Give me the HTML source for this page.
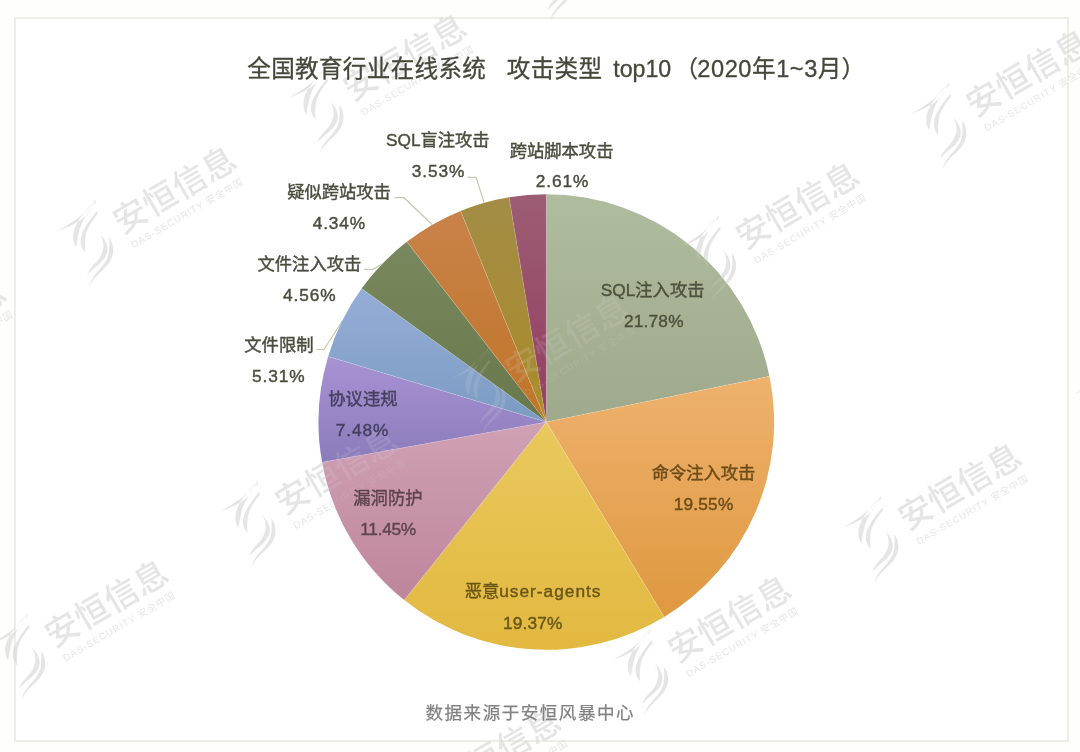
<!DOCTYPE html>
<html lang="zh-CN">
<head>
<meta charset="utf-8">
<title>全国教育行业在线系统 攻击类型 top10（2020年1~3月）</title>
<style>
html,body{margin:0;padding:0;background:#fefefc;}
body{width:1080px;height:752px;overflow:hidden;position:relative;font-family:"Liberation Sans", "Noto Sans CJK SC", sans-serif;}
#chart{position:absolute;left:0;top:0;width:1080px;height:752px;display:block;}
text{font-family:"Liberation Sans", "Noto Sans CJK SC", sans-serif;}
.lbl{font-size:17.3px;fill:#4b4d3f;text-anchor:middle;stroke:#4b4d3f;stroke-width:0.42px;}
.ttl{font-size:23.6px;fill:#45473a;letter-spacing:0.3px;stroke:#45473a;stroke-width:0.3px;}
.src{font-size:17.5px;fill:#828282;letter-spacing:1.55px;stroke:#828282;stroke-width:0.25px;}
.wmT{font-size:33.5px;font-weight:500;letter-spacing:0.6px;}
.wmS{font-size:9.6px;letter-spacing:0.95px;}
</style>
</head>
<body>
<svg id="chart" width="1080" height="752" viewBox="0 0 1080 752">
<defs>
<linearGradient id="g0" x1="0" y1="0" x2="0" y2="1"><stop offset="0" stop-color="#b0bc9e"/><stop offset="1" stop-color="#9fa98b"/></linearGradient>
<linearGradient id="g1" x1="0" y1="0" x2="0" y2="1"><stop offset="0" stop-color="#eeb26e"/><stop offset="1" stop-color="#df983f"/></linearGradient>
<linearGradient id="g2" x1="0" y1="0" x2="0" y2="1"><stop offset="0" stop-color="#e9c95d"/><stop offset="1" stop-color="#e2b840"/></linearGradient>
<linearGradient id="g3" x1="0" y1="0" x2="0" y2="1"><stop offset="0" stop-color="#d0a1b5"/><stop offset="1" stop-color="#be859d"/></linearGradient>
<linearGradient id="g4" x1="0" y1="0" x2="0" y2="1"><stop offset="0" stop-color="#a893d3"/><stop offset="1" stop-color="#8b7bbb"/></linearGradient>
<linearGradient id="g5" x1="0" y1="0" x2="0" y2="1"><stop offset="0" stop-color="#95aed7"/><stop offset="1" stop-color="#7b9bc3"/></linearGradient>
<linearGradient id="g6" x1="0" y1="0" x2="0" y2="1"><stop offset="0" stop-color="#79885e"/><stop offset="1" stop-color="#68784c"/></linearGradient>
<linearGradient id="g7" x1="0" y1="0" x2="0" y2="1"><stop offset="0" stop-color="#c9824a"/><stop offset="1" stop-color="#c07526"/></linearGradient>
<linearGradient id="g8" x1="0" y1="0" x2="0" y2="1"><stop offset="0" stop-color="#a38c46"/><stop offset="1" stop-color="#aa8c2a"/></linearGradient>
<linearGradient id="g9" x1="0" y1="0" x2="0" y2="1"><stop offset="0" stop-color="#9c5d74"/><stop offset="1" stop-color="#943e60"/></linearGradient>
<mask id="wmMask" maskUnits="userSpaceOnUse" x="0" y="0" width="1080" height="752"><path fill="#fff" fill-rule="evenodd" d="M0,0H1080V752H0Z M318.49999999999994,422.0 a227.8,227.8 0 1 0 455.6,0 a227.8,227.8 0 1 0 -455.6,0Z"/><circle cx="546.3" cy="422.0" r="227.8" fill="#fff" fill-opacity="0.24"/></mask>
</defs>
<rect x="15" y="18" width="1053" height="723" fill="#ffffff" stroke="#ebebe5" stroke-width="1.7"/>
<path d="M546.30,422.00 L546.30,194.20 A227.8,227.8 0 0 1 769.47,376.29 Z" fill="url(#g0)"/>
<path d="M546.30,422.00 L769.47,376.29 A227.8,227.8 0 0 1 664.25,616.89 Z" fill="url(#g1)"/>
<path d="M546.30,422.00 L664.25,616.89 A227.8,227.8 0 0 1 404.29,600.12 Z" fill="url(#g2)"/>
<path d="M546.30,422.00 L404.29,600.12 A227.8,227.8 0 0 1 322.11,462.37 Z" fill="url(#g3)"/>
<path d="M546.30,422.00 L322.11,462.37 A227.8,227.8 0 0 1 328.14,356.44 Z" fill="url(#g4)"/>
<path d="M546.30,422.00 L328.14,356.44 A227.8,227.8 0 0 1 361.64,288.60 Z" fill="url(#g5)"/>
<path d="M546.30,422.00 L361.64,288.60 A227.8,227.8 0 0 1 406.88,241.85 Z" fill="url(#g6)"/>
<path d="M546.30,422.00 L406.88,241.85 A227.8,227.8 0 0 1 460.57,210.95 Z" fill="url(#g7)"/>
<path d="M546.30,422.00 L460.57,210.95 A227.8,227.8 0 0 1 509.10,197.26 Z" fill="url(#g8)"/>
<path d="M546.30,422.00 L509.10,197.26 A227.8,227.8 0 0 1 546.30,194.20 Z" fill="url(#g9)"/>
<line x1="546.30" y1="422.00" x2="546.30" y2="194.20" stroke="#ffffff" stroke-opacity="0.2" stroke-width="0.9"/>
<line x1="546.30" y1="422.00" x2="769.47" y2="376.29" stroke="#ffffff" stroke-opacity="0.2" stroke-width="0.9"/>
<line x1="546.30" y1="422.00" x2="664.25" y2="616.89" stroke="#ffffff" stroke-opacity="0.2" stroke-width="0.9"/>
<line x1="546.30" y1="422.00" x2="404.29" y2="600.12" stroke="#ffffff" stroke-opacity="0.2" stroke-width="0.9"/>
<line x1="546.30" y1="422.00" x2="322.11" y2="462.37" stroke="#ffffff" stroke-opacity="0.2" stroke-width="0.9"/>
<line x1="546.30" y1="422.00" x2="328.14" y2="356.44" stroke="#ffffff" stroke-opacity="0.2" stroke-width="0.9"/>
<line x1="546.30" y1="422.00" x2="361.64" y2="288.60" stroke="#ffffff" stroke-opacity="0.2" stroke-width="0.9"/>
<line x1="546.30" y1="422.00" x2="406.88" y2="241.85" stroke="#ffffff" stroke-opacity="0.2" stroke-width="0.9"/>
<line x1="546.30" y1="422.00" x2="460.57" y2="210.95" stroke="#ffffff" stroke-opacity="0.2" stroke-width="0.9"/>
<line x1="546.30" y1="422.00" x2="509.10" y2="197.26" stroke="#ffffff" stroke-opacity="0.2" stroke-width="0.9"/>
<g mask="url(#wmMask)" fill="#d8d8d8" fill-opacity="0.68">
<g transform="translate(718.6,215.4)"><path d="M0,0 C-6,6 -14,15.4 -19,24 C-23,32 -24.5,40 -19.5,47.5 C-19,43 -17.8,36 -16,29.3 C-13,20 -7,11 0,2.8 ZM1.4,11.2 C-3,16 -8.4,23.7 -12,30 C-16,38 -16.5,46 -10.5,52.4 C-11,47 -11,40 -9.8,34.9 C-8,27 -3,20 2.1,14 ZM-37.7,30.7 C-30,27 -21,21 -15,16 C-9,11 -4,5 -0.7,0.7 C-2,5 -5,10 -9,15 C-15,21 -25,27 -37.7,30.7 ZM4.2,34.9 C8,38 11,42 11.9,48.9 C12.5,56 6,63 -1.4,68.4 C-4,70.5 -6.5,73 -8.4,75.4 C-7,70 -3,66 0,62.8 C4,58.5 7,54 7.7,47 C8,42 6.5,38 4.2,34.9 ZM13.3,37.7 C16,41 17.8,46 17.5,51.7 C17,59 12,66 5,72 C0.5,76 -4,81 -6.3,86.6 C-5,81 -3,77.5 0,74 C5,68 11.5,62 13,54 C14,47.5 13.8,42 13.3,37.7 Z"/><g transform="translate(29.5,32.5) rotate(-30.3)"><text class="wmT" x="-4" y="0.5">安恒信息</text><text class="wmS" x="-0.9" y="18.1">DAS-SECURITY 安全中国</text></g></g>
<g transform="translate(948.9,82.8)"><path d="M0,0 C-6,6 -14,15.4 -19,24 C-23,32 -24.5,40 -19.5,47.5 C-19,43 -17.8,36 -16,29.3 C-13,20 -7,11 0,2.8 ZM1.4,11.2 C-3,16 -8.4,23.7 -12,30 C-16,38 -16.5,46 -10.5,52.4 C-11,47 -11,40 -9.8,34.9 C-8,27 -3,20 2.1,14 ZM-37.7,30.7 C-30,27 -21,21 -15,16 C-9,11 -4,5 -0.7,0.7 C-2,5 -5,10 -9,15 C-15,21 -25,27 -37.7,30.7 ZM4.2,34.9 C8,38 11,42 11.9,48.9 C12.5,56 6,63 -1.4,68.4 C-4,70.5 -6.5,73 -8.4,75.4 C-7,70 -3,66 0,62.8 C4,58.5 7,54 7.7,47 C8,42 6.5,38 4.2,34.9 ZM13.3,37.7 C16,41 17.8,46 17.5,51.7 C17,59 12,66 5,72 C0.5,76 -4,81 -6.3,86.6 C-5,81 -3,77.5 0,74 C5,68 11.5,62 13,54 C14,47.5 13.8,42 13.3,37.7 Z"/><g transform="translate(29.5,32.5) rotate(-30.3)"><text class="wmT" x="-4" y="0.5">安恒信息</text><text class="wmS" x="-0.9" y="18.1">DAS-SECURITY 安全中国</text></g></g>
<g transform="translate(488.3,348.0)"><path d="M0,0 C-6,6 -14,15.4 -19,24 C-23,32 -24.5,40 -19.5,47.5 C-19,43 -17.8,36 -16,29.3 C-13,20 -7,11 0,2.8 ZM1.4,11.2 C-3,16 -8.4,23.7 -12,30 C-16,38 -16.5,46 -10.5,52.4 C-11,47 -11,40 -9.8,34.9 C-8,27 -3,20 2.1,14 ZM-37.7,30.7 C-30,27 -21,21 -15,16 C-9,11 -4,5 -0.7,0.7 C-2,5 -5,10 -9,15 C-15,21 -25,27 -37.7,30.7 ZM4.2,34.9 C8,38 11,42 11.9,48.9 C12.5,56 6,63 -1.4,68.4 C-4,70.5 -6.5,73 -8.4,75.4 C-7,70 -3,66 0,62.8 C4,58.5 7,54 7.7,47 C8,42 6.5,38 4.2,34.9 ZM13.3,37.7 C16,41 17.8,46 17.5,51.7 C17,59 12,66 5,72 C0.5,76 -4,81 -6.3,86.6 C-5,81 -3,77.5 0,74 C5,68 11.5,62 13,54 C14,47.5 13.8,42 13.3,37.7 Z"/><g transform="translate(29.5,32.5) rotate(-30.3)"><text class="wmT" x="-4" y="0.5">安恒信息</text><text class="wmS" x="-0.9" y="18.1">DAS-SECURITY 安全中国</text></g></g>
<g transform="translate(258.0,480.6)"><path d="M0,0 C-6,6 -14,15.4 -19,24 C-23,32 -24.5,40 -19.5,47.5 C-19,43 -17.8,36 -16,29.3 C-13,20 -7,11 0,2.8 ZM1.4,11.2 C-3,16 -8.4,23.7 -12,30 C-16,38 -16.5,46 -10.5,52.4 C-11,47 -11,40 -9.8,34.9 C-8,27 -3,20 2.1,14 ZM-37.7,30.7 C-30,27 -21,21 -15,16 C-9,11 -4,5 -0.7,0.7 C-2,5 -5,10 -9,15 C-15,21 -25,27 -37.7,30.7 ZM4.2,34.9 C8,38 11,42 11.9,48.9 C12.5,56 6,63 -1.4,68.4 C-4,70.5 -6.5,73 -8.4,75.4 C-7,70 -3,66 0,62.8 C4,58.5 7,54 7.7,47 C8,42 6.5,38 4.2,34.9 ZM13.3,37.7 C16,41 17.8,46 17.5,51.7 C17,59 12,66 5,72 C0.5,76 -4,81 -6.3,86.6 C-5,81 -3,77.5 0,74 C5,68 11.5,62 13,54 C14,47.5 13.8,42 13.3,37.7 Z"/><g transform="translate(29.5,32.5) rotate(-30.3)"><text class="wmT" x="-4" y="0.5">安恒信息</text><text class="wmS" x="-0.9" y="18.1">DAS-SECURITY 安全中国</text></g></g>
<g transform="translate(27.7,613.2)"><path d="M0,0 C-6,6 -14,15.4 -19,24 C-23,32 -24.5,40 -19.5,47.5 C-19,43 -17.8,36 -16,29.3 C-13,20 -7,11 0,2.8 ZM1.4,11.2 C-3,16 -8.4,23.7 -12,30 C-16,38 -16.5,46 -10.5,52.4 C-11,47 -11,40 -9.8,34.9 C-8,27 -3,20 2.1,14 ZM-37.7,30.7 C-30,27 -21,21 -15,16 C-9,11 -4,5 -0.7,0.7 C-2,5 -5,10 -9,15 C-15,21 -25,27 -37.7,30.7 ZM4.2,34.9 C8,38 11,42 11.9,48.9 C12.5,56 6,63 -1.4,68.4 C-4,70.5 -6.5,73 -8.4,75.4 C-7,70 -3,66 0,62.8 C4,58.5 7,54 7.7,47 C8,42 6.5,38 4.2,34.9 ZM13.3,37.7 C16,41 17.8,46 17.5,51.7 C17,59 12,66 5,72 C0.5,76 -4,81 -6.3,86.6 C-5,81 -3,77.5 0,74 C5,68 11.5,62 13,54 C14,47.5 13.8,42 13.3,37.7 Z"/><g transform="translate(29.5,32.5) rotate(-30.3)"><text class="wmT" x="-4" y="0.5">安恒信息</text><text class="wmS" x="-0.9" y="18.1">DAS-SECURITY 安全中国</text></g></g>
<g transform="translate(880.9,496.3)"><path d="M0,0 C-6,6 -14,15.4 -19,24 C-23,32 -24.5,40 -19.5,47.5 C-19,43 -17.8,36 -16,29.3 C-13,20 -7,11 0,2.8 ZM1.4,11.2 C-3,16 -8.4,23.7 -12,30 C-16,38 -16.5,46 -10.5,52.4 C-11,47 -11,40 -9.8,34.9 C-8,27 -3,20 2.1,14 ZM-37.7,30.7 C-30,27 -21,21 -15,16 C-9,11 -4,5 -0.7,0.7 C-2,5 -5,10 -9,15 C-15,21 -25,27 -37.7,30.7 ZM4.2,34.9 C8,38 11,42 11.9,48.9 C12.5,56 6,63 -1.4,68.4 C-4,70.5 -6.5,73 -8.4,75.4 C-7,70 -3,66 0,62.8 C4,58.5 7,54 7.7,47 C8,42 6.5,38 4.2,34.9 ZM13.3,37.7 C16,41 17.8,46 17.5,51.7 C17,59 12,66 5,72 C0.5,76 -4,81 -6.3,86.6 C-5,81 -3,77.5 0,74 C5,68 11.5,62 13,54 C14,47.5 13.8,42 13.3,37.7 Z"/><g transform="translate(29.5,32.5) rotate(-30.3)"><text class="wmT" x="-4" y="0.5">安恒信息</text><text class="wmS" x="-0.9" y="18.1">DAS-SECURITY 安全中国</text></g></g>
<g transform="translate(650.6,628.9)"><path d="M0,0 C-6,6 -14,15.4 -19,24 C-23,32 -24.5,40 -19.5,47.5 C-19,43 -17.8,36 -16,29.3 C-13,20 -7,11 0,2.8 ZM1.4,11.2 C-3,16 -8.4,23.7 -12,30 C-16,38 -16.5,46 -10.5,52.4 C-11,47 -11,40 -9.8,34.9 C-8,27 -3,20 2.1,14 ZM-37.7,30.7 C-30,27 -21,21 -15,16 C-9,11 -4,5 -0.7,0.7 C-2,5 -5,10 -9,15 C-15,21 -25,27 -37.7,30.7 ZM4.2,34.9 C8,38 11,42 11.9,48.9 C12.5,56 6,63 -1.4,68.4 C-4,70.5 -6.5,73 -8.4,75.4 C-7,70 -3,66 0,62.8 C4,58.5 7,54 7.7,47 C8,42 6.5,38 4.2,34.9 ZM13.3,37.7 C16,41 17.8,46 17.5,51.7 C17,59 12,66 5,72 C0.5,76 -4,81 -6.3,86.6 C-5,81 -3,77.5 0,74 C5,68 11.5,62 13,54 C14,47.5 13.8,42 13.3,37.7 Z"/><g transform="translate(29.5,32.5) rotate(-30.3)"><text class="wmT" x="-4" y="0.5">安恒信息</text><text class="wmS" x="-0.9" y="18.1">DAS-SECURITY 安全中国</text></g></g>
<g transform="translate(420.3,761.5)"><path d="M0,0 C-6,6 -14,15.4 -19,24 C-23,32 -24.5,40 -19.5,47.5 C-19,43 -17.8,36 -16,29.3 C-13,20 -7,11 0,2.8 ZM1.4,11.2 C-3,16 -8.4,23.7 -12,30 C-16,38 -16.5,46 -10.5,52.4 C-11,47 -11,40 -9.8,34.9 C-8,27 -3,20 2.1,14 ZM-37.7,30.7 C-30,27 -21,21 -15,16 C-9,11 -4,5 -0.7,0.7 C-2,5 -5,10 -9,15 C-15,21 -25,27 -37.7,30.7 ZM4.2,34.9 C8,38 11,42 11.9,48.9 C12.5,56 6,63 -1.4,68.4 C-4,70.5 -6.5,73 -8.4,75.4 C-7,70 -3,66 0,62.8 C4,58.5 7,54 7.7,47 C8,42 6.5,38 4.2,34.9 ZM13.3,37.7 C16,41 17.8,46 17.5,51.7 C17,59 12,66 5,72 C0.5,76 -4,81 -6.3,86.6 C-5,81 -3,77.5 0,74 C5,68 11.5,62 13,54 C14,47.5 13.8,42 13.3,37.7 Z"/><g transform="translate(29.5,32.5) rotate(-30.3)"><text class="wmT" x="-4" y="0.5">安恒信息</text><text class="wmS" x="-0.9" y="18.1">DAS-SECURITY 安全中国</text></g></g>
<g transform="translate(1111.2,363.7)"><path d="M0,0 C-6,6 -14,15.4 -19,24 C-23,32 -24.5,40 -19.5,47.5 C-19,43 -17.8,36 -16,29.3 C-13,20 -7,11 0,2.8 ZM1.4,11.2 C-3,16 -8.4,23.7 -12,30 C-16,38 -16.5,46 -10.5,52.4 C-11,47 -11,40 -9.8,34.9 C-8,27 -3,20 2.1,14 ZM-37.7,30.7 C-30,27 -21,21 -15,16 C-9,11 -4,5 -0.7,0.7 C-2,5 -5,10 -9,15 C-15,21 -25,27 -37.7,30.7 ZM4.2,34.9 C8,38 11,42 11.9,48.9 C12.5,56 6,63 -1.4,68.4 C-4,70.5 -6.5,73 -8.4,75.4 C-7,70 -3,66 0,62.8 C4,58.5 7,54 7.7,47 C8,42 6.5,38 4.2,34.9 ZM13.3,37.7 C16,41 17.8,46 17.5,51.7 C17,59 12,66 5,72 C0.5,76 -4,81 -6.3,86.6 C-5,81 -3,77.5 0,74 C5,68 11.5,62 13,54 C14,47.5 13.8,42 13.3,37.7 Z"/><g transform="translate(29.5,32.5) rotate(-30.3)"><text class="wmT" x="-4" y="0.5">安恒信息</text><text class="wmS" x="-0.9" y="18.1">DAS-SECURITY 安全中国</text></g></g>
<g transform="translate(556.3,-65.5)"><path d="M0,0 C-6,6 -14,15.4 -19,24 C-23,32 -24.5,40 -19.5,47.5 C-19,43 -17.8,36 -16,29.3 C-13,20 -7,11 0,2.8 ZM1.4,11.2 C-3,16 -8.4,23.7 -12,30 C-16,38 -16.5,46 -10.5,52.4 C-11,47 -11,40 -9.8,34.9 C-8,27 -3,20 2.1,14 ZM-37.7,30.7 C-30,27 -21,21 -15,16 C-9,11 -4,5 -0.7,0.7 C-2,5 -5,10 -9,15 C-15,21 -25,27 -37.7,30.7 ZM4.2,34.9 C8,38 11,42 11.9,48.9 C12.5,56 6,63 -1.4,68.4 C-4,70.5 -6.5,73 -8.4,75.4 C-7,70 -3,66 0,62.8 C4,58.5 7,54 7.7,47 C8,42 6.5,38 4.2,34.9 ZM13.3,37.7 C16,41 17.8,46 17.5,51.7 C17,59 12,66 5,72 C0.5,76 -4,81 -6.3,86.6 C-5,81 -3,77.5 0,74 C5,68 11.5,62 13,54 C14,47.5 13.8,42 13.3,37.7 Z"/><g transform="translate(29.5,32.5) rotate(-30.3)"><text class="wmT" x="-4" y="0.5">安恒信息</text><text class="wmS" x="-0.9" y="18.1">DAS-SECURITY 安全中国</text></g></g>
<g transform="translate(326.0,67.1)"><path d="M0,0 C-6,6 -14,15.4 -19,24 C-23,32 -24.5,40 -19.5,47.5 C-19,43 -17.8,36 -16,29.3 C-13,20 -7,11 0,2.8 ZM1.4,11.2 C-3,16 -8.4,23.7 -12,30 C-16,38 -16.5,46 -10.5,52.4 C-11,47 -11,40 -9.8,34.9 C-8,27 -3,20 2.1,14 ZM-37.7,30.7 C-30,27 -21,21 -15,16 C-9,11 -4,5 -0.7,0.7 C-2,5 -5,10 -9,15 C-15,21 -25,27 -37.7,30.7 ZM4.2,34.9 C8,38 11,42 11.9,48.9 C12.5,56 6,63 -1.4,68.4 C-4,70.5 -6.5,73 -8.4,75.4 C-7,70 -3,66 0,62.8 C4,58.5 7,54 7.7,47 C8,42 6.5,38 4.2,34.9 ZM13.3,37.7 C16,41 17.8,46 17.5,51.7 C17,59 12,66 5,72 C0.5,76 -4,81 -6.3,86.6 C-5,81 -3,77.5 0,74 C5,68 11.5,62 13,54 C14,47.5 13.8,42 13.3,37.7 Z"/><g transform="translate(29.5,32.5) rotate(-30.3)"><text class="wmT" x="-4" y="0.5">安恒信息</text><text class="wmS" x="-0.9" y="18.1">DAS-SECURITY 安全中国</text></g></g>
<g transform="translate(95.7,199.7)"><path d="M0,0 C-6,6 -14,15.4 -19,24 C-23,32 -24.5,40 -19.5,47.5 C-19,43 -17.8,36 -16,29.3 C-13,20 -7,11 0,2.8 ZM1.4,11.2 C-3,16 -8.4,23.7 -12,30 C-16,38 -16.5,46 -10.5,52.4 C-11,47 -11,40 -9.8,34.9 C-8,27 -3,20 2.1,14 ZM-37.7,30.7 C-30,27 -21,21 -15,16 C-9,11 -4,5 -0.7,0.7 C-2,5 -5,10 -9,15 C-15,21 -25,27 -37.7,30.7 ZM4.2,34.9 C8,38 11,42 11.9,48.9 C12.5,56 6,63 -1.4,68.4 C-4,70.5 -6.5,73 -8.4,75.4 C-7,70 -3,66 0,62.8 C4,58.5 7,54 7.7,47 C8,42 6.5,38 4.2,34.9 ZM13.3,37.7 C16,41 17.8,46 17.5,51.7 C17,59 12,66 5,72 C0.5,76 -4,81 -6.3,86.6 C-5,81 -3,77.5 0,74 C5,68 11.5,62 13,54 C14,47.5 13.8,42 13.3,37.7 Z"/><g transform="translate(29.5,32.5) rotate(-30.3)"><text class="wmT" x="-4" y="0.5">安恒信息</text><text class="wmS" x="-0.9" y="18.1">DAS-SECURITY 安全中国</text></g></g>
<g transform="translate(-134.6,332.3)"><path d="M0,0 C-6,6 -14,15.4 -19,24 C-23,32 -24.5,40 -19.5,47.5 C-19,43 -17.8,36 -16,29.3 C-13,20 -7,11 0,2.8 ZM1.4,11.2 C-3,16 -8.4,23.7 -12,30 C-16,38 -16.5,46 -10.5,52.4 C-11,47 -11,40 -9.8,34.9 C-8,27 -3,20 2.1,14 ZM-37.7,30.7 C-30,27 -21,21 -15,16 C-9,11 -4,5 -0.7,0.7 C-2,5 -5,10 -9,15 C-15,21 -25,27 -37.7,30.7 ZM4.2,34.9 C8,38 11,42 11.9,48.9 C12.5,56 6,63 -1.4,68.4 C-4,70.5 -6.5,73 -8.4,75.4 C-7,70 -3,66 0,62.8 C4,58.5 7,54 7.7,47 C8,42 6.5,38 4.2,34.9 ZM13.3,37.7 C16,41 17.8,46 17.5,51.7 C17,59 12,66 5,72 C0.5,76 -4,81 -6.3,86.6 C-5,81 -3,77.5 0,74 C5,68 11.5,62 13,54 C14,47.5 13.8,42 13.3,37.7 Z"/><g transform="translate(29.5,32.5) rotate(-30.3)"><text class="wmT" x="-4" y="0.5">安恒信息</text><text class="wmS" x="-0.9" y="18.1">DAS-SECURITY 安全中国</text></g></g>
</g>
<polyline points="467.6,177.4 476.1,177.4 484.1,202.5" fill="none" stroke="#c3c9b0" stroke-width="1.2"/>
<polyline points="394.4,197.7 404.0,197.7 432.4,224.7" fill="none" stroke="#c3c9b0" stroke-width="1.2"/>
<polyline points="364.3,269.3 373.0,269.3 382.4,263.7" fill="none" stroke="#c3c9b0" stroke-width="1.2"/>
<polyline points="316.4,349.5 324.0,349.5 342.0,321.2" fill="none" stroke="#c3c9b0" stroke-width="1.2"/>
<text class="ttl" x="247.3" y="76.6">全国教育行业在线系统</text>
<text class="ttl" x="506.8" y="76.6">攻击类型</text>
<text class="ttl" x="613.2" y="76.6" style="font-size:23.2px;letter-spacing:0">top10</text>
<text class="ttl" x="674.5" y="76.6">（</text>
<text class="ttl" x="697.3" y="76.6" style="letter-spacing:0.55px">2020年1~3月</text>
<text class="ttl" x="841.5" y="76.6">）</text>
<text class="lbl" x="561.6" y="156.6">跨站脚本攻击</text>
<text class="lbl" x="562.5" y="186.7" style="letter-spacing:0.9px">2.61%</text>
<text class="lbl" x="437.8" y="146.2">SQL盲注攻击</text>
<text class="lbl" x="438.6" y="176.6" style="letter-spacing:0.9px">3.53%</text>
<text class="lbl" x="339.0" y="198.0">疑似跨站攻击</text>
<text class="lbl" x="339.4" y="229.3" style="letter-spacing:0.9px">4.34%</text>
<text class="lbl" x="309.4" y="269.9">文件注入攻击</text>
<text class="lbl" x="309.8" y="300.7" style="letter-spacing:0.9px">4.56%</text>
<text class="lbl" x="278.9" y="350.8">文件限制</text>
<text class="lbl" x="278.8" y="381.7" style="letter-spacing:0.9px">5.31%</text>
<text class="lbl" x="362.9" y="404.9" style="fill:#473f5f;stroke:#473f5f">协议违规</text>
<text class="lbl" x="362.6" y="436.2" style="letter-spacing:0.9px;fill:#473f5f;stroke:#473f5f">7.48%</text>
<text class="lbl" x="387.9" y="503.6" style="fill:#5e454f;stroke:#5e454f">漏洞防护</text>
<text class="lbl" x="388.1" y="534.9" style="letter-spacing:-0.3px;fill:#5e454f;stroke:#5e454f">11.45%</text>
<text class="lbl" x="533.1" y="597.4" style="fill:#6a5717;stroke:#6a5717">恶意<tspan style="letter-spacing:1px">user-agents</tspan></text>
<text class="lbl" x="532.7" y="628.6" style="letter-spacing:0.15px;fill:#6a5717;stroke:#6a5717">19.37%</text>
<text class="lbl" x="703.5" y="478.6" style="fill:#6d4c19;stroke:#6d4c19">命令注入攻击</text>
<text class="lbl" x="703.6" y="509.5" style="letter-spacing:0.2px;fill:#6d4c19;stroke:#6d4c19">19.55%</text>
<text class="lbl" x="652.6" y="295.5" style="fill:#4c523d;stroke:#4c523d">SQL注入攻击</text>
<text class="lbl" x="653.8" y="326.6" style="letter-spacing:0.2px;fill:#4c523d;stroke:#4c523d">21.78%</text>
<text class="src" x="425.5" y="719">数据来源于安恒风暴中心</text>
</svg>
</body>
</html>
